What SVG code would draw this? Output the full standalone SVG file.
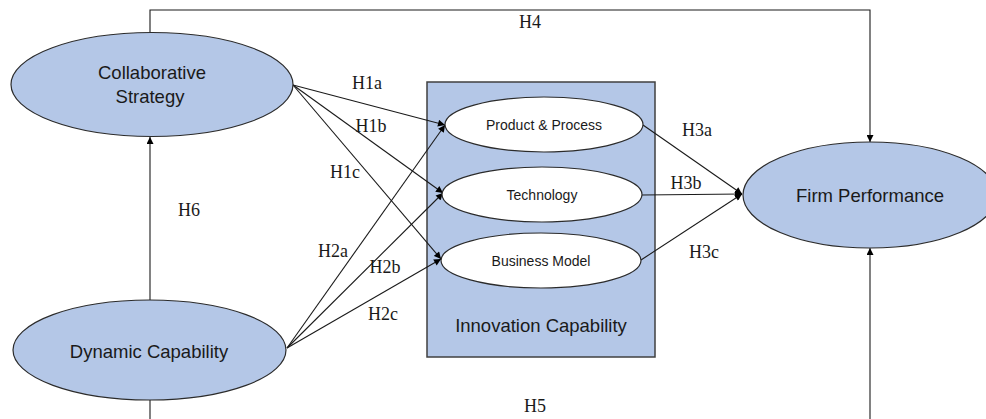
<svg xmlns="http://www.w3.org/2000/svg" width="986" height="419" viewBox="0 0 986 419">
  <style>
    .construct { fill: #b4c7e7; stroke: #2b2b2b; stroke-width: 1.2; }
    .dimension { fill: #ffffff; stroke: #2b2b2b; stroke-width: 1.2; }
    .box { fill: #b4c7e7; stroke: #404040; stroke-width: 1.5; }
    .label { font-family: "Liberation Sans", Arial, sans-serif; fill: #1a1a1a; text-anchor: middle; }
    .hyp { font-family: "Liberation Serif", "Times New Roman", serif; font-size: 18px; fill: #1a1a1a; text-anchor: middle; }
    .link { fill: none; stroke: #1a1a1a; stroke-width: 1.1; }
  </style>
  <defs>
    <marker id="arrow" viewBox="0 0 10 10" refX="10" refY="5" markerWidth="8" markerHeight="7" markerUnits="userSpaceOnUse" orient="auto">
      <path d="M0,0 L10,5 L0,10 z" fill="#000"/>
    </marker>
  </defs>

  <rect width="986" height="419" fill="#ffffff"/>

  <!-- Innovation Capability container -->
  <g id="innovation-capability">
    <rect class="box" x="427" y="82" width="228" height="275"/>
    <text class="label" x="541" y="332" font-size="18.5">Innovation Capability</text>
  </g>

  <!-- Connectors -->
  <g id="connectors">
    <!-- H4: Collaborative Strategy -> Firm Performance (top route) -->
    <polyline class="link" points="150,32 150,10 870,10 870,142" marker-end="url(#arrow)"/>
    <!-- H5: Dynamic Capability -> Firm Performance (bottom route) -->
    <line class="link" x1="150" y1="400" x2="150" y2="425"/>
    <line class="link" x1="870" y1="425" x2="870" y2="248" marker-end="url(#arrow)"/>
    <!-- H6 -->
    <line class="link" x1="150" y1="300" x2="150" y2="137" marker-end="url(#arrow)"/>
    <!-- H1a-c -->
    <line class="link" x1="293" y1="85" x2="445" y2="125" marker-end="url(#arrow)"/>
    <line class="link" x1="293" y1="85" x2="443" y2="193" marker-end="url(#arrow)"/>
    <line class="link" x1="293" y1="85" x2="441" y2="259" marker-end="url(#arrow)"/>
    <!-- H2a-c -->
    <line class="link" x1="287" y1="348" x2="445" y2="125" marker-end="url(#arrow)"/>
    <line class="link" x1="287" y1="348" x2="443" y2="193" marker-end="url(#arrow)"/>
    <line class="link" x1="287" y1="348" x2="441" y2="259" marker-end="url(#arrow)"/>
    <!-- H3a-c -->
    <line class="link" x1="643" y1="125" x2="742" y2="194" marker-end="url(#arrow)"/>
    <line class="link" x1="642" y1="195" x2="742" y2="194" marker-end="url(#arrow)"/>
    <line class="link" x1="641" y1="260" x2="742" y2="194" marker-end="url(#arrow)"/>
  </g>

  <!-- Hypothesis labels -->
  <g id="hypotheses">
    <text class="hyp" x="367" y="89">H1a</text>
    <text class="hyp" x="371" y="132">H1b</text>
    <text class="hyp" x="345" y="178">H1c</text>
    <text class="hyp" x="333" y="257">H2a</text>
    <text class="hyp" x="385" y="273">H2b</text>
    <text class="hyp" x="383" y="320">H2c</text>
    <text class="hyp" x="697" y="136">H3a</text>
    <text class="hyp" x="686" y="189">H3b</text>
    <text class="hyp" x="704" y="258">H3c</text>
    <text class="hyp" x="530" y="28">H4</text>
    <text class="hyp" x="535" y="412">H5</text>
    <text class="hyp" x="189" y="216">H6</text>
  </g>

  <g id="collaborative-strategy">
    <ellipse class="construct" cx="152" cy="84.5" rx="141" ry="52"/>
    <text class="label" x="152" y="79" font-size="18.5">Collaborative</text>
    <text class="label" x="150" y="103" font-size="18.5">Strategy</text>
  </g>

  <g id="dynamic-capability">
    <ellipse class="construct" cx="149.5" cy="350" rx="136.5" ry="50"/>
    <text class="label" x="149" y="358" font-size="18.5">Dynamic Capability</text>
  </g>

  <g id="firm-performance">
    <ellipse class="construct" cx="870" cy="195" rx="127" ry="53"/>
    <text class="label" x="870" y="202" font-size="18.5">Firm Performance</text>
  </g>

  <g id="product-process">
    <ellipse class="dimension" cx="544" cy="124.5" rx="99" ry="27.5"/>
    <text class="label" x="544" y="130" font-size="14">Product &amp; Process</text>
  </g>

  <g id="technology">
    <ellipse class="dimension" cx="542" cy="194.5" rx="100" ry="27.5"/>
    <text class="label" x="542" y="200" font-size="14">Technology</text>
  </g>

  <g id="business-model">
    <ellipse class="dimension" cx="541" cy="260.5" rx="100" ry="27.5"/>
    <text class="label" x="541" y="266" font-size="14">Business Model</text>
  </g>
</svg>
